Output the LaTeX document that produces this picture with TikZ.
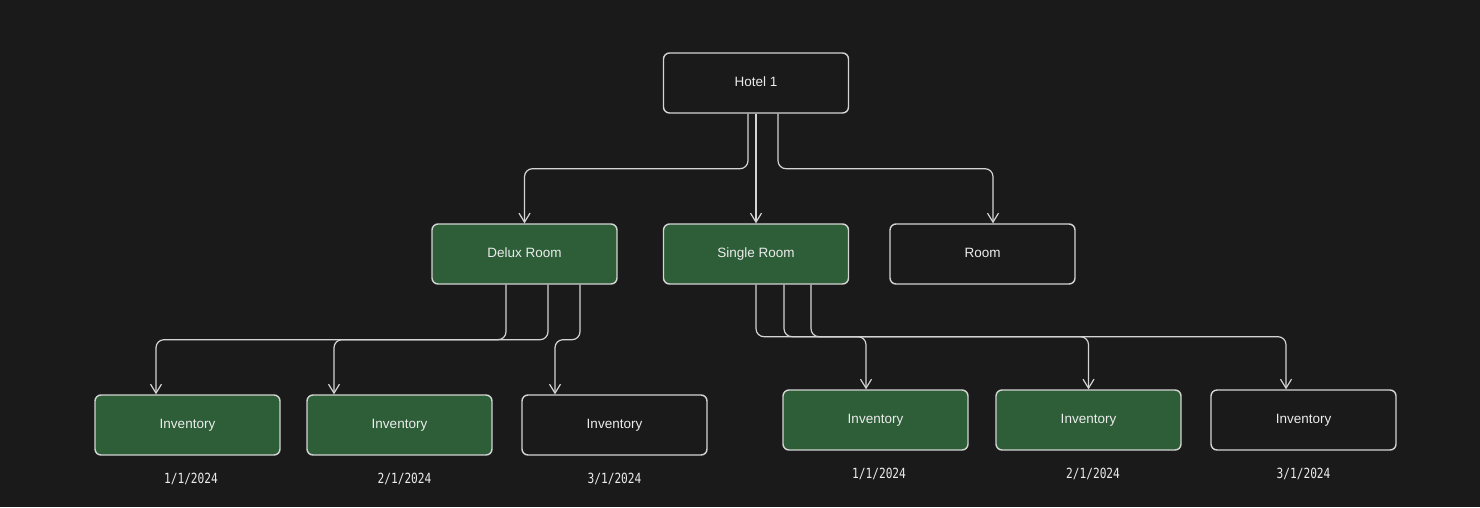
\documentclass[tikz,border=0pt]{standalone}
\usepackage{fontspec}
\setmainfont{Liberation Sans}
\newfontfamily\datefont[FakeStretch=0.8]{DejaVu Sans Mono}
\usetikzlibrary{arrows.meta,positioning}
\definecolor{canvas}{RGB}{26,26,26}
\definecolor{leaf}{RGB}{45,94,56}
\definecolor{chalk}{RGB}{212,212,212}
\definecolor{ink}{RGB}{236,236,236}
\tikzset{
  card/.style={draw=chalk, line width=1.4pt, rounded corners=6pt, fill=canvas, text=ink,
    minimum width=185pt, minimum height=60pt, text height=10pt, text depth=3pt,
    font=\fontsize{13.5}{15}\selectfont},
  booked/.style={card, fill=leaf},
  datelabel/.style={text=ink, inner sep=0pt, font=\datefont\fontsize{14}{16}\selectfont},
  link/.style={-{Straight Barb[length=9pt,width=11pt]}, line width=1.2pt, draw=chalk, rounded corners=8pt}
}
\begin{document}
\begin{tikzpicture}[x=1pt,y=-1pt]
\fill[canvas] (0,0) rectangle (1480,507);
\useasboundingbox (0,0) rectangle (1480,507);
% top level
\node[card] (hotel) at (756,83) {Hotel 1};
% room types
\node[booked] (delux) at (524.5,254) {Delux Room};
\node[booked] (single) at (756,254) {Single Room};
\node[card] (room) at (982.5,254) {Room};
% inventory under delux
\node[booked] (delinv1) at (187.5,425) {Inventory};
\node[booked] (delinv2) at (399.5,425) {Inventory};
\node[card] (delinv3) at (614.5,425) {Inventory};
% inventory under single
\node[booked] (sglinv1) at (875.5,420) {Inventory};
\node[booked] (sglinv2) at (1088.5,420) {Inventory};
\node[card] (sglinv3) at (1303.5,420) {Inventory};
% dates
\node[datelabel,below=17pt of delinv1,xshift=3.5pt] (deldate1) {1/1/2024};
\node[datelabel,below=17pt of delinv2,xshift=5pt] (deldate2) {2/1/2024};
\node[datelabel,below=17pt of delinv3] (deldate3) {3/1/2024};
\node[datelabel,below=17pt of sglinv1,xshift=3.5pt] (sgldate1) {1/1/2024};
\node[datelabel,below=17pt of sglinv2,xshift=4.5pt] (sgldate2) {2/1/2024};
\node[datelabel,below=17pt of sglinv3] (sgldate3) {3/1/2024};
% hotel to rooms
\draw[link] ([xshift=-8pt]hotel.south) -- ++(0,55) -| (delux.north);
\draw[link] (hotel.south) -- (single.north);
\draw[link] ([xshift=22pt]hotel.south) -- ++(0,55) -| ([xshift=10.5pt]room.north);
% delux to inventory
\draw[link] ([xshift=-18.5pt]delux.south) -- ++(0,55) -| ([xshift=-31.5pt]delinv1.north);
\draw[link] ([xshift=23.5pt]delux.south) -- ++(0,55) -| ([xshift=-65.5pt]delinv2.north);
\draw[link] ([xshift=55.5pt]delux.south) -- ++(0,55) -| ([xshift=-59.5pt]delinv3.north);
% single to inventory
\draw[link] (single.south) -- ++(0,52) -| ([xshift=-9.5pt]sglinv1.north);
\draw[link] ([xshift=28pt]single.south) -- ++(0,52) -| (sglinv2.north);
\draw[link] ([xshift=55pt]single.south) -- ++(0,52) -| ([xshift=-17.5pt]sglinv3.north);
\end{tikzpicture}
\end{document}
